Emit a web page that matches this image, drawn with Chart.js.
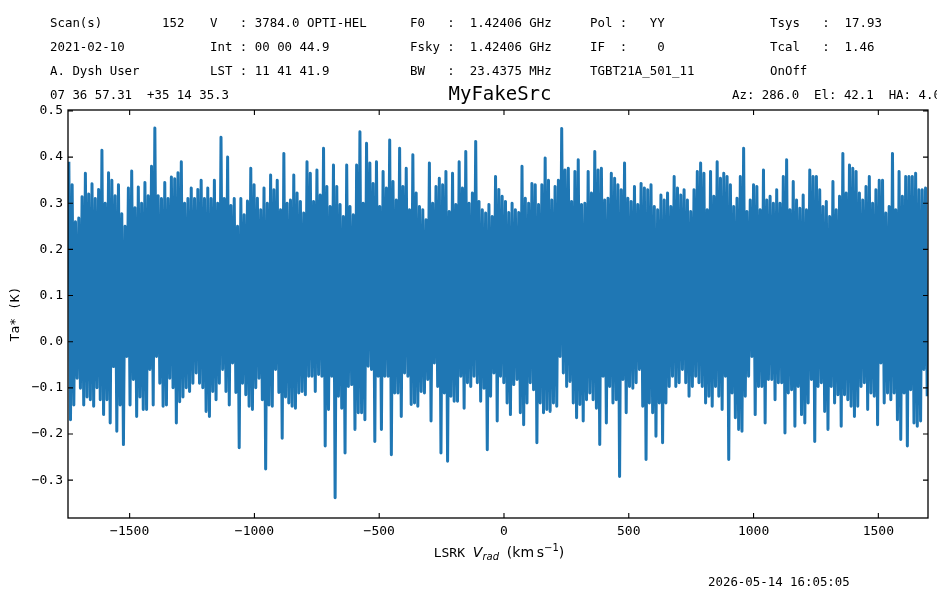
<!DOCTYPE html>
<html>
<head>
<meta charset="utf-8">
<script src="https://cdn.jsdelivr.net/npm/chart.js@4.4.1/dist/chart.umd.min.js"></script>
<style>
  html, body { margin: 0; padding: 0; background: #fff; overflow: hidden; }
  #fig { position: relative; width: 937px; height: 591px; overflow: hidden;
         font-family: "DejaVu Sans Mono", monospace; color: #000; }
  #fig canvas { position: absolute; left: 0; top: 0; }
  .t { position: absolute; white-space: pre; font-size: 12.4px; line-height: 1; transform: translateY(-50%); }
  .title { position: absolute; white-space: pre; font-size: 19px; line-height: 1; left: 500px; top: 93px; transform: translate(-50%, -50%); }
  .xlab { position: absolute; white-space: pre; font-size: 13px; line-height: 1; left: 499px; top: 553px; transform: translate(-50%, -50%); }
  .xlab .m { font-family: "DejaVu Sans", sans-serif; font-size: 14px; }
  .xlab i { font-family: "DejaVu Sans", sans-serif; font-style: italic; font-size: 14px; }
  .xlab sub i { font-size: 10px; }
  .xlab sub { vertical-align: -3px; }
  .xlab sup { font-size: 10px; vertical-align: 6px; }
</style>
</head>
<body>
<div id="fig">
  <canvas id="spec" width="937" height="591"></canvas>

  <div class="t" style="left:50px;top:23px">Scan(s)</div>
  <div class="t" style="left:162px;top:23px">152</div>
  <div class="t" style="left:210px;top:23px">V   : 3784.0 OPTI-HEL</div>
  <div class="t" style="left:410px;top:23px">F0   :  1.42406 GHz</div>
  <div class="t" style="left:590px;top:23px">Pol :   YY</div>
  <div class="t" style="left:770px;top:23px">Tsys   :  17.93</div>

  <div class="t" style="left:50px;top:47px">2021-02-10</div>
  <div class="t" style="left:210px;top:47px">Int : 00 00 44.9</div>
  <div class="t" style="left:410px;top:47px">Fsky :  1.42406 GHz</div>
  <div class="t" style="left:590px;top:47px">IF  :    0</div>
  <div class="t" style="left:770px;top:47px">Tcal   :  1.46</div>

  <div class="t" style="left:50px;top:71px">A. Dysh User</div>
  <div class="t" style="left:210px;top:71px">LST : 11 41 41.9</div>
  <div class="t" style="left:410px;top:71px">BW   :  23.4375 MHz</div>
  <div class="t" style="left:590px;top:71px">TGBT21A_501_11</div>
  <div class="t" style="left:770px;top:71px">OnOff</div>

  <div class="t" style="left:50px;top:95px">07 36 57.31  +35 14 35.3</div>
  <div class="title">MyFakeSrc</div>
  <div class="t" style="left:732px;top:95px">Az: 286.0  El: 42.1  HA: 4.0</div>

  <div class="xlab">LSRK <i>V</i><sub><i>rad</i></sub> <span class="m">(km&#8201;s<sup>−1</sup>)</span></div>

  <div class="t" style="left:708px;top:582px">2026-05-14 16:05:05</div>
</div>

<script>
// channel grid (LSRK velocity, km/s)
const vStart = -1743.6;
const vStep = 6.627;

// antenna temperature per channel (K)
const taK = [
  0.39, -0.169, 0.34, -0.137, 0.26, -0.079, 0.268, -0.101, 0.314, -0.137,
  0.365, -0.12, 0.32, -0.126, 0.342, -0.14, 0.31, -0.10, 0.33, -0.126,
  0.415, -0.158, 0.30, -0.126, 0.366, -0.176, 0.35, -0.054, 0.316, -0.194,
  0.34, -0.137, 0.277, -0.223, 0.25, -0.032, 0.333, -0.137, 0.37, -0.082,
  0.29, -0.162, 0.335, -0.12, 0.30, -0.147, 0.345, -0.147, 0.316, -0.06,
  0.38, -0.137, 0.463, -0.032, 0.316, -0.09, 0.31, -0.14, 0.345, -0.137,
  0.31, -0.079, 0.357, -0.10, 0.353, -0.176, 0.366, -0.13, 0.39, -0.12,
  0.30, -0.10, 0.31, -0.108, 0.333, -0.09, 0.31, -0.068, 0.33, -0.09,
  0.35, -0.10, 0.31, -0.151, 0.333, -0.162, 0.31, -0.108, 0.35, -0.126,
  0.30, -0.09, 0.443, -0.06, 0.31, -0.108, 0.40, -0.137, 0.295, -0.046,
  0.31, -0.11, 0.25, -0.23, 0.31, -0.09, 0.275, -0.115, 0.305, -0.14,
  0.376, -0.147, 0.34, -0.10, 0.311, -0.079, 0.286, -0.126, 0.333, -0.276,
  0.30, -0.137, 0.361, -0.14, 0.329, -0.06, 0.35, -0.11, 0.286, -0.209,
  0.408, -0.12, 0.30, -0.133, 0.307, -0.14, 0.361, -0.144, 0.322, -0.111,
  0.304, -0.108, 0.279, -0.115, 0.39, -0.075, 0.365, -0.075, 0.304, -0.108,
  0.372, -0.071, 0.318, -0.075, 0.419, -0.226, 0.336, -0.147, 0.293, -0.075,
  0.383, -0.338, 0.336, -0.118, 0.297, -0.144, 0.271, -0.241, 0.383, -0.097,
  0.293, -0.093, 0.275, -0.19, 0.383, -0.154, 0.455, -0.154, 0.30, -0.169,
  0.43, -0.053, 0.387, -0.06, 0.343, -0.216, 0.39, -0.075, 0.293, -0.19,
  0.369, -0.075, 0.333, -0.075, 0.437, -0.245, 0.347, -0.111, 0.307, -0.111,
  0.419, -0.162, 0.336, -0.068, 0.376, -0.075, 0.286, -0.136, 0.405, -0.133,
  0.322, -0.14, 0.293, -0.108, 0.286, -0.111, 0.264, -0.082, 0.387, -0.172,
  0.30, -0.046, 0.336, -0.097, 0.354, -0.241, 0.34, -0.111, 0.369, -0.259,
  0.282, -0.118, 0.365, -0.129, 0.297, -0.129, 0.39, -0.075, 0.333, -0.144,
  0.412, -0.089, 0.30, -0.097, 0.322, -0.075, 0.434, -0.089, 0.304, -0.129,
  0.286, -0.101, 0.279, -0.234, 0.297, -0.118, 0.271, -0.068, 0.358, -0.172,
  0.33, -0.075, 0.315, -0.089, 0.304, -0.133, 0.28, -0.158, 0.30, -0.093,
  0.286, -0.082, 0.28, -0.154, 0.38, -0.18, 0.311, -0.133, 0.30, -0.089,
  0.343, -0.104, 0.34, -0.219, 0.297, -0.133, 0.34, -0.154, 0.398, -0.147,
  0.35, -0.151, 0.307, -0.133, 0.336, -0.14, 0.35, -0.032, 0.462, -0.068,
  0.372, -0.097, 0.376, -0.086, 0.304, -0.133, 0.369, -0.165, 0.394, -0.136,
  0.297, -0.172, 0.30, -0.126, 0.369, -0.111, 0.322, -0.126, 0.412, -0.144,
  0.372, -0.223, 0.376, -0.075, 0.307, -0.176, 0.311, -0.097, 0.365, -0.133,
  0.354, -0.126, 0.34, -0.292, 0.329, -0.082, 0.387, -0.154, 0.311, -0.097,
  0.304, -0.101, 0.336, -0.089, 0.297, -0.06, 0.343, -0.14, 0.333, -0.255,
  0.329, -0.133, 0.34, -0.154, 0.293, -0.205, 0.286, -0.133, 0.318, -0.219,
  0.307, -0.133, 0.322, -0.097, 0.293, -0.075, 0.358, -0.097, 0.333, -0.089,
  0.318, -0.06, 0.329, -0.089, 0.307, -0.118, 0.282, -0.097, 0.329, -0.075,
  0.369, -0.089, 0.387, -0.097, 0.365, -0.133, 0.286, -0.118, 0.369, -0.14,
  0.315, -0.097, 0.39, -0.118, 0.354, -0.147, 0.365, -0.075, 0.358, -0.255,
  0.34, -0.111, 0.293, -0.165, 0.311, -0.19, 0.358, -0.194, 0.419, -0.118,
  0.282, -0.075, 0.307, -0.032, 0.34, -0.158, 0.336, -0.097, 0.286, -0.097,
  0.372, -0.176, 0.307, -0.082, 0.315, -0.082, 0.30, -0.126, 0.329, -0.089,
  0.30, -0.089, 0.358, -0.198, 0.394, -0.111, 0.286, -0.104, 0.347, -0.183,
  0.307, -0.097, 0.289, -0.158, 0.318, -0.176, 0.286, -0.133, 0.372, -0.082,
  0.358, -0.216, 0.358, -0.097, 0.329, -0.089, 0.293, -0.151, 0.304, -0.19,
  0.271, -0.097, 0.347, -0.133, 0.286, -0.115, 0.315, -0.183, 0.408, -0.115,
  0.322, -0.126, 0.383, -0.14, 0.376, -0.162, 0.369, -0.14, 0.322, -0.097,
  0.307, -0.089, 0.336, -0.147, 0.358, -0.111, 0.30, -0.118, 0.329, -0.18,
  0.35, -0.046, 0.35, -0.133, 0.279, -0.111, 0.293, -0.126, 0.408, -0.111,
  0.286, -0.169, 0.369, -0.212, 0.315, -0.111, 0.358, -0.226, 0.358, -0.104,
  0.358, -0.176, 0.365, -0.183, 0.329, -0.172, 0.329, -0.06, 0.333, -0.118
];

// axis limits and ticks
const xLimits = [-1747, 1699];
const yLimits = [-0.382, 0.502];
const xTicks = [-1500, -1000, -500, 0, 500, 1000, 1500];
const yTicks = [-0.3, -0.2, -0.1, 0.0, 0.1, 0.2, 0.3, 0.4, 0.5];

const points = taK.map((t, i) => ({ x: vStart + i * vStep, y: t }));

const minus = s => s.replace('-', '\u2212');

// matplotlib-like frame with inward ticks on all four sides
const frameTicks = {
  id: 'frameTicks',
  afterDatasetsDraw(chart) {
    const { ctx, chartArea: a, scales: { x, y } } = chart;
    ctx.save();
    ctx.strokeStyle = '#000';
    ctx.lineWidth = 1.1;
    ctx.beginPath();
    x.ticks.forEach(t => {
      const px = x.getPixelForValue(t.value);
      ctx.moveTo(px, a.bottom); ctx.lineTo(px, a.bottom - 5);
      ctx.moveTo(px, a.top); ctx.lineTo(px, a.top + 5);
    });
    y.ticks.forEach(t => {
      const py = y.getPixelForValue(t.value);
      ctx.moveTo(a.left, py); ctx.lineTo(a.left + 5, py);
      ctx.moveTo(a.right, py); ctx.lineTo(a.right - 5, py);
    });
    ctx.stroke();
    ctx.lineWidth = 1.3;
    ctx.strokeRect(a.left, a.top, a.right - a.left, a.bottom - a.top);
    ctx.restore();
  }
};

new Chart(document.getElementById('spec'), {
  type: 'line',
  data: {
    datasets: [{
      data: points,
      borderColor: '#1f77b4',
      borderWidth: 3,
      borderJoinStyle: 'round',
      pointRadius: 0,
      tension: 0,
      fill: false
    }]
  },
  options: {
    responsive: false,
    animation: false,
    events: [],
    layout: { padding: { top: 110, right: 9, left: 0, bottom: 0 } },
    plugins: { legend: { display: false }, tooltip: { enabled: false } },
    scales: {
      x: {
        type: 'linear',
        min: xLimits[0],
        max: xLimits[1],
        grid: { display: false, drawTicks: false },
        border: { display: false },
        afterBuildTicks: s => { s.ticks = xTicks.map(v => ({ value: v })); },
        afterFit: s => { s.height = 73; },
        ticks: {
          autoSkip: false,
          padding: 6,
          color: '#000',
          font: { family: 'DejaVu Sans Mono', size: 13 },
          maxRotation: 0,
          callback: v => minus(String(v))
        }
      },
      y: {
        min: yLimits[0],
        max: yLimits[1],
        grid: { display: false, drawTicks: false },
        border: { display: false },
        afterBuildTicks: s => { s.ticks = yTicks.map(v => ({ value: v })); },
        afterFit: s => { s.width = 68; },
        title: {
          display: true,
          text: 'Ta* (K)',
          color: '#000',
          font: { family: 'DejaVu Sans Mono', size: 13 },
          padding: { top: 8, bottom: 0 }
        },
        ticks: {
          autoSkip: false,
          padding: 5,
          color: '#000',
          font: { family: 'DejaVu Sans Mono', size: 13 },
          callback: v => Math.abs(v) < 1e-9 ? '0.0' : minus(v.toFixed(1))
        }
      }
    }
  },
  plugins: [frameTicks]
});
</script>
</body>
</html>
